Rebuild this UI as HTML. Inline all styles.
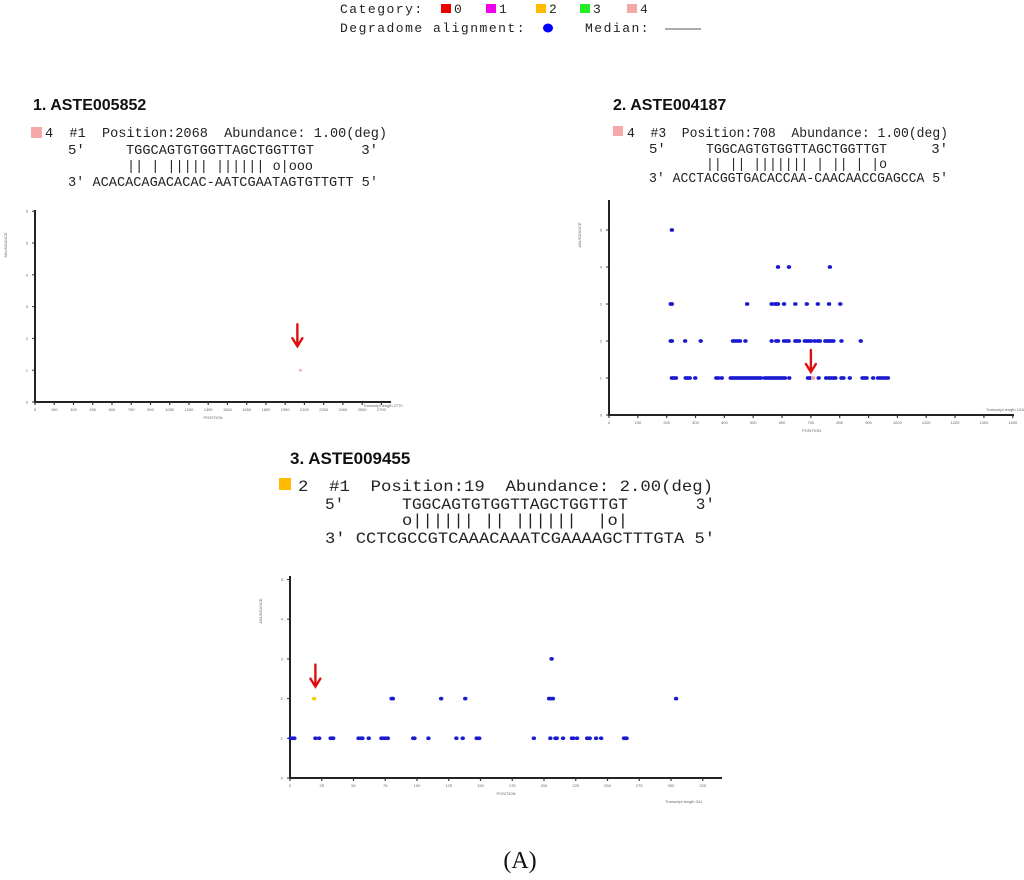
<!DOCTYPE html>
<html><head><meta charset="utf-8"><style>
body{margin:0;background:#fff;width:1024px;height:880px;overflow:hidden}
svg{display:block}
.mono{font-family:"Liberation Mono",monospace;fill:#222}
.hd{font-family:"Liberation Sans",sans-serif;font-weight:bold;fill:#111}
.tk{font-family:"Liberation Sans",sans-serif;font-size:4px;fill:#666}
</style></head><body>
<svg id="fig" width="1024" height="880" xmlns="http://www.w3.org/2000/svg">
<g>
<text class="mono" x="340" y="13" font-size="13" letter-spacing="1.5">Category:</text>
<rect x="441" y="4" width="10" height="9" fill="#e00"/><text class="mono" x="454" y="13" font-size="13">0</text>
<rect x="486" y="4" width="10" height="9" fill="#e0e"/><text class="mono" x="499" y="13" font-size="13">1</text>
<rect x="536" y="4" width="10" height="9" fill="#fb0"/><text class="mono" x="549" y="13" font-size="13">2</text>
<rect x="580" y="4" width="10" height="9" fill="#2e2"/><text class="mono" x="593" y="13" font-size="13">3</text>
<rect x="627" y="4" width="10" height="9" fill="#f5a8a8"/><text class="mono" x="640" y="13" font-size="13">4</text>
<text class="mono" x="340" y="32" font-size="13" letter-spacing="1.5">Degradome alignment:</text>
<ellipse cx="548" cy="28" rx="5" ry="4.5" fill="#00f"/>
<text class="mono" x="585" y="32" font-size="13" letter-spacing="1.5">Median:</text>
<line x1="665" y1="29" x2="701" y2="29" stroke="#aaa" stroke-width="2"/>
</g>
<text x="520" y="868" font-family="Liberation Serif,serif" font-size="24" text-anchor="middle" fill="#111">(A)</text>
</svg>
<script>
// Panel 1 data
const p1Pos=[2068];
const p1Abd=[1];
const p1Cat=[4];
// Panel 2 data
const p2Pos=[218,586,624,766,214,218,479,564,575,582,586,607,646,686,724,763,802,
214,218,264,318,430,438,446,454,473,564,580,586,607,615,623,646,652,659,679,686,692,700,713,724,731,750,757,764,771,778,806,873,
218,225,232,266,273,280,299,372,379,391,422,429,436,443,450,457,464,471,478,485,492,499,506,513,520,527,540,547,554,561,568,575,582,589,596,603,610,625,690,697,727,753,763,771,779,785,806,813,835,879,886,893,916,933,941,950,958,967,708];
const p2Abd=[5,4,4,4,3,3,3,3,3,3,3,3,3,3,3,3,3,
2,2,2,2,2,2,2,2,2,2,2,2,2,2,2,2,2,2,2,2,2,2,2,2,2,2,2,2,2,2,2,2,
1,1,1,1,1,1,1,1,1,1,1,1,1,1,1,1,1,1,1,1,1,1,1,1,1,1,1,1,1,1,1,1,1,1,1,1,1,1,1,1,1,1,1,1,1,1,1,1,1,1,1,1,1,1,1,1,1,1,1];
const p2HitIndex=p2Pos.length-1;
// Panel 3 data
const p3Pos=[19,80,81,119,138,204,205,207,304,206,0.5,2,3.4,20,23,32,33,34,54,56,57,62,72,73,75,77,97,98,109,131,136,147,149,192,205,209,210,215,222,223,226,234,236,241,245,263,264,265];
const p3Abd=[2,2,2,2,2,2,2,2,2,3,1,1,1,1,1,1,1,1,1,1,1,1,1,1,1,1,1,1,1,1,1,1,1,1,1,1,1,1,1,1,1,1,1,1,1,1,1,1];
const p1XTicks=[0,150,300,450,600,750,900,1050,1200,1350,1500,1650,1800,1950,2100,2250,2400,2550,2700];
const p2XTicks=[0,100,200,300,400,500,600,700,800,900,1000,1100,1200,1300,1400];
const p3XTicks=[0,25,50,75,100,125,150,175,200,225,250,275,300,325];
const p1YTicks=[0,1,2,3,4,5,6];
const p2YTicks=[0,1,2,3,4,5];
const p3YTicks=[0,1,2,3,4,5];
const headers=[
 {t:"1. ASTE005852",x:33,y:110,fs:16,sw:"#f5a8a8",sx:31,sy:127,ss:11,lfs:14,
  l1:{t:"4  #1  Position:2068  Abundance: 1.00(deg)",x0:45,x1:387,y:137},
  p5:{x:68,y:154},seq:{t:"TGGCAGTGTGGTTAGCTGGTTGT",x0:126,x1:314},p3x:378,
  bars:{t:"|| | ||||| |||||| o|ooo",x0:127,x1:313,y:170},
  l4:{t:"3' ACACACAGACACAC-AATCGAATAGTGTTGTT 5'",x0:68,x1:378,y:186}},
 {t:"2. ASTE004187",x:613,y:110,fs:16,sw:"#f5a8a8",sx:613,sy:126,ss:10,lfs:14,
  l1:{t:"4  #3  Position:708  Abundance: 1.00(deg)",x0:627,x1:948,y:137},
  p5:{x:649,y:153},seq:{t:"TGGCAGTGTGGTTAGCTGGTTGT",x0:706,x1:887},p3x:948,
  bars:{t:"|| || ||||||| | || | |o",x0:706,x1:887,y:168},
  l4:{t:"3' ACCTACGGTGACACCAA-CAACAACCGAGCCA 5'",x0:649,x1:948,y:182}},
 {t:"3. ASTE009455",x:290,y:464,fs:17,sw:"#fb0",sx:279,sy:478,ss:12,lfs:16,
  l1:{t:"2  #1  Position:19  Abundance: 2.00(deg)",x0:298,x1:713,y:491},
  p5:{x:325,y:509},seq:{t:"TGGCAGTGTGGTTAGCTGGTTGT",x0:402,x1:628},p3x:715,
  bars:{t:"o|||||| || ||||||  |o|",x0:402,x1:628,y:525},
  l4:{t:"3' CCTCGCCGTCAAACAAATCGAAAAGCTTTGTA 5'",x0:325,x1:715,y:543}}
];
const NS="http://www.w3.org/2000/svg";
const svg=document.getElementById('fig');
function mk(tag,attrs,parent){const e=document.createElementNS(NS,tag);for(const k in attrs)e.setAttribute(k,attrs[k]);(parent||svg).appendChild(e);return e;}
function txt(g,s,x,y,fs,opts){const t=mk('text',Object.assign({x:x,y:y,'font-size':fs,'class':'mono'},opts||{}),g);t.style.whiteSpace='pre';t.textContent=s;
 
 
 return t;}
headers.forEach((h,i)=>{
 const g=mk('g',{});
 
 
 const t=mk('text',{x:h.x,y:h.y,'font-size':h.fs,'class':'hd'},g);t.textContent=h.t;
 
 
 const s=mk('rect',{x:h.sx,y:h.sy,width:h.ss,height:h.ss,fill:h.sw},g);
 
 
 const F=h.lfs;
 txt(g,h.l1.t,h.l1.x0,h.l1.y,F,{textLength:h.l1.x1-h.l1.x0,lengthAdjust:'spacingAndGlyphs'});
 txt(g,"5'",h.p5.x,h.p5.y,F);
 txt(g,h.seq.t,h.seq.x0,h.p5.y,F,{textLength:h.seq.x1-h.seq.x0,lengthAdjust:'spacingAndGlyphs'});
 txt(g,"3'",h.p3x,h.p5.y,F,{'text-anchor':'end'});
 txt(g,h.bars.t,h.bars.x0,h.bars.y,F,{textLength:h.bars.x1-h.bars.x0,lengthAdjust:'spacingAndGlyphs'});
 txt(g,h.l4.t,h.l4.x0,h.l4.y,F,{textLength:h.l4.x1-h.l4.x0,lengthAdjust:'spacingAndGlyphs'});
});
function plot(o){
 const g=mk('g',{});
 
 
 const X=v=>o.x0+(v-o.xmin)*o.xs, Y=v=>o.y0-v*o.ys;
 const ax=mk('path',{d:`M${o.x0} ${o.ytop}V${o.y0}H${o.xend}`,stroke:'#222','stroke-width':2,fill:'none'},g);
 
 
 o.xt.forEach(v=>{mk('line',{x1:X(v),x2:X(v),y1:o.y0,y2:o.y0+3,stroke:'#333','stroke-width':1.2},g);
  const t=mk('text',{x:X(v),y:o.y0+9,'class':'tk','text-anchor':'middle'},g);t.textContent=v;
  
  });
 o.yt.forEach(v=>{mk('line',{x1:o.x0-3,x2:o.x0,y1:Y(v),y2:Y(v),stroke:'#333'},g);
  const t=mk('text',{x:o.x0-7,y:Y(v)+1.5,'class':'tk','text-anchor':'end'},g);t.textContent=v;
  
  });
 const yl=mk('text',{x:o.x0-28,y:o.ytop+35,'class':'tk','font-size':5,transform:`rotate(-90 ${o.x0-28} ${o.ytop+35})`,'text-anchor':'middle'},g);yl.textContent='ABUNDANCE';
 
 
 const xl=mk('text',{x:(o.x0+o.xend)/2,y:o.y0+17,'class':'tk','font-size':5,'text-anchor':'middle'},g);xl.textContent='POSITION';
 
 
 const tl=mk('text',{x:o.tlx,y:o.y0+o.tly,'class':'tk'},g);tl.textContent='Transcript length '+o.len;
 
 
 o.pos.forEach((p,i)=>{
  const c=o.color(i);
  const d=mk('ellipse',{cx:X(p),cy:Y(o.abd[i]),rx:o.r,ry:o.r*0.85,fill:c},g);
  
  
 });
 const ax2=X(o.arrowPos), ay=Y(o.arrowAbd)-o.arrowGap;
 const ar=mk('path',{d:`M${ax2} ${ay-22}V${ay} M${ax2-5} ${ay-8}L${ax2} ${ay}L${ax2+5} ${ay-8}`,stroke:'#e01010','stroke-width':2.4,fill:'none','stroke-linecap':'round'},g);
 
 
}
plot({name:'panel-1-chart',x0:35,xmin:0,xs:0.1283,y0:402,ys:31.8,ytop:210,xend:391,xt:p1XTicks,yt:p1YTicks,pos:p1Pos,abd:p1Abd,
 color:i=>p1Cat[i]===4?'#f5a8a8':'#00f',r:1.5,len:2770,arrowPos:2045,arrowAbd:1,arrowGap:24,tlx:363,tly:5});
plot({name:'panel-2-chart',x0:609,xmin:0,xs:0.2884,y0:415,ys:37,ytop:200,xend:1014,xt:p2XTicks,yt:p2YTicks,pos:p2Pos,abd:p2Abd,
 color:i=>i===p2HitIndex?'#f5a8a8':'#1a1ad0',r:2.2,len:1410,arrowPos:700,arrowAbd:1,arrowGap:6,tlx:986,tly:-4});
plot({name:'panel-3-chart',x0:290,xmin:0,xs:1.27,y0:778,ys:39.7,ytop:576,xend:722,xt:p3XTicks,yt:p3YTicks,pos:p3Pos,abd:p3Abd,
 color:i=>i===0?'#f5d000':'#1a1ad0',r:2.2,len:341,arrowPos:20,arrowAbd:2,arrowGap:12,tlx:665,tly:25});
</script>
</body></html>
